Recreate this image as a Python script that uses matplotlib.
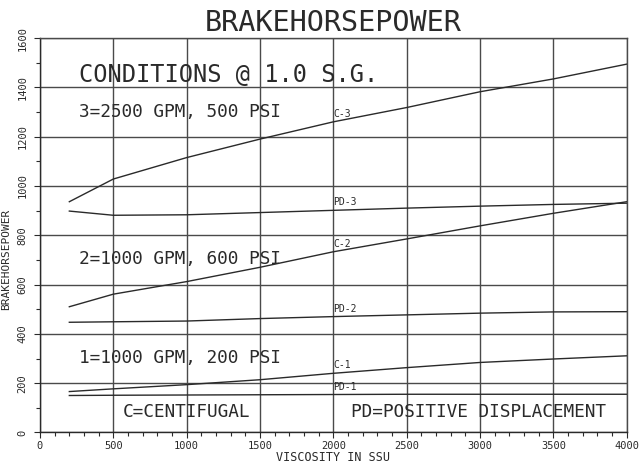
import numpy as np
import matplotlib.pyplot as plt

# --- DATA ---
visc = [200, 500, 1000, 1500, 2000, 2500, 3000, 3500, 4000]

c3 = [936, 1028, 1115, 1190, 1260, 1318, 1382, 1434, 1494]
pd3 = [898, 881, 883, 892, 901, 910, 918, 925, 930]
c2 = [510, 561, 612, 670, 733, 785, 838, 889, 936]
pd2 = [447, 449, 452, 462, 470, 477, 484, 489, 490]
c1 = [166, 177, 194, 214, 240, 263, 284, 298, 311]
pd1 = [150, 151, 152, 153, 154, 155, 155, 155, 155]

curve_names = ["C-3", "PD-3", "C-2", "PD-2", "C-1", "PD-1"]
curve_vals = [c3, pd3, c2, pd2, c1, pd1]

xticks = [0, 500, 1000, 1500, 2000, 2500, 3000, 3500, 4000]
yticks = [0, 200, 400, 600, 800, 1000, 1200, 1400, 1600]

FONT = dict(family="DejaVu Sans Mono")
INK = "#2a2a2a"

fig = plt.figure(figsize=(6.42, 4.68), dpi=100)
ax = fig.add_axes([0.0623, 0.0759, 0.9139, 0.8429])

ax.set_xlim(0, 4000)
ax.set_ylim(0, 1600)

# grid
ax.set_xticks(xticks)
ax.set_yticks(yticks)
ax.set_xticks(np.arange(0, 4001, 100), minor=True)
ax.set_yticks(np.arange(0, 1601, 100), minor=True)
ax.grid(True, which="major", color="#4a4a4a", linewidth=1.0)
for s in ax.spines.values():
    s.set_color("#4a4a4a")
    s.set_linewidth(1.0)
ax.spines["left"].set_color(INK)
ax.spines["bottom"].set_color(INK)

ax.tick_params(which="both", direction="out", color=INK, width=0.8)
ax.tick_params(which="major", length=4)
ax.tick_params(which="minor", length=3)
ax.tick_params(axis="x", labelsize=7.5, pad=2)
ax.tick_params(axis="y", labelsize=7.5, pad=5)
for lab in ax.get_yticklabels():
    lab.set_rotation(90)
    lab.set_va("center")
for lab in ax.get_xticklabels() + ax.get_yticklabels():
    lab.set_family("DejaVu Sans Mono")
    lab.set_color(INK)

# curves
for name, vals in zip(curve_names, curve_vals):
    ax.plot(visc, vals, color=INK, linewidth=1.0)
    ax.text(2000, vals[4] + 12, name, fontsize=7, color=INK,
            ha="left", va="bottom", **FONT)

# annotations
ax.text(265, 1450, "CONDITIONS @ 1.0 S.G.", fontsize=17, color=INK,
        ha="left", va="center", **FONT)
ax.text(265, 1300, "3=2500 GPM, 500 PSI", fontsize=12.8, color=INK,
        ha="left", va="center", **FONT)
ax.text(265, 704, "2=1000 GPM, 600 PSI", fontsize=12.8, color=INK,
        ha="left", va="center", **FONT)
ax.text(265, 302, "1=1000 GPM, 200 PSI", fontsize=12.8, color=INK,
        ha="left", va="center", **FONT)
ax.text(1000, 85, "C=CENTIFUGAL", fontsize=12.8, color=INK,
        ha="center", va="center", **FONT)
ax.text(2990, 85, "PD=POSITIVE DISPLACEMENT", fontsize=12.8, color=INK,
        ha="center", va="center", **FONT)

ax.set_title("BRAKEHORSEPOWER", fontsize=20.5, color=INK, pad=5, **FONT)
ax.set_xlabel("VISCOSITY IN SSU", fontsize=8.5, color=INK, labelpad=0, **FONT)
ax.set_ylabel("BRAKEHORSEPOWER", fontsize=8, color=INK, labelpad=1, **FONT)
ax.yaxis.set_label_coords(-0.05, 0.44)

fig.savefig("out.png", dpi=100)
